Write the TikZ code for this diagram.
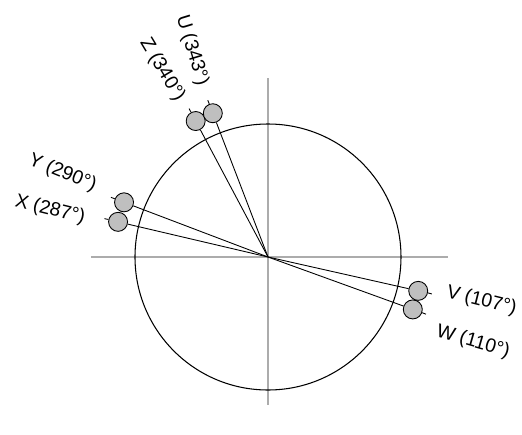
\documentclass[tikz,border=0pt]{standalone}
\usepackage{fontspec}
\setmainfont{Liberation Sans}
\begin{document}
\begin{tikzpicture}[x=0.02cm,y=0.02cm,
    axis/.style={gray!65,line width=0.9pt},
    ball/.style={circle,draw,line width=0.5pt,fill=gray!50,inner sep=0pt,minimum size=0.38cm},
    lbl/.style={font=\fontsize{11}{13}\selectfont,inner sep=0pt}]
  \useasboundingbox (-268,-177) rectangle (254,257);
  \coordinate (O) at (0,0);
  \coordinate (axW) at (-177,0); \coordinate (axE) at (180,0);
  \coordinate (axN) at (0,179);  \coordinate (axS) at (0,-148);
  \draw[axis] (axW) -- (axE);
  \draw[axis] (axN) -- (axS);
  \draw[line width=0.6pt] (O) circle (133);
  % phasors: name / angle / label angle / label distance / rotation / value
  \foreach \nm/\ang/\lang/\ldist/\rot/\val in
      {Z/118/119.5/215/-59/340, U/111/110.2/220/-73/343,
       X/166.8/167.8/223/-14/287, Y/159.2/157.8/222/-22/290,
       W/-19.9/-22.5/222/-16/110, V/-12.7/-11.6/218/-14/107}
  {
    \node[ball] (\nm) at (\ang:154) {};
    \coordinate (\nm-tip) at (\ang:168);
    \draw[line width=0.5pt] (O) -- (\nm);
    \draw[line width=0.5pt] (\nm.\ang) -- (\nm-tip);
    \node[lbl,rotate=\rot] (\nm-lbl) at (\lang:\ldist) {\nm\ (\val°)};
  }
\end{tikzpicture}
\end{document}
